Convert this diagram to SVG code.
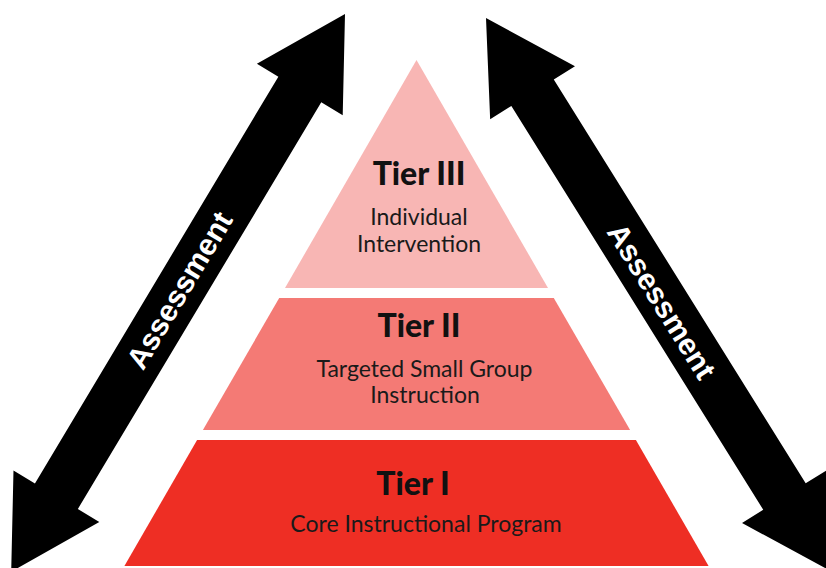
<svg xmlns="http://www.w3.org/2000/svg" width="826" height="568" viewBox="0 0 826 568">
  <style>
    .arrow { fill: #000000; }
    .atext { font-family: "Liberation Sans", Arial, sans-serif; font-weight: 700; font-size: 30px; fill: #ffffff; text-anchor: middle; }
    .head { font-family: Lato, "Liberation Sans", sans-serif; font-weight: 900; font-size: 32px; fill: #111111; text-anchor: middle; }
    .sub { font-family: Lato, "Liberation Sans", sans-serif; font-weight: 400; font-size: 23px; fill: #1a1a1a; text-anchor: middle; }
  </style>
  <rect x="0" y="0" width="826" height="568" fill="#ffffff"/>
  <g id="connectors">
    <g id="arrow-left">
      <path class="arrow" transform="translate(345,14) rotate(120.9)" d="M0,0 L88,-50 L88,-25 L562,-25 L562,-50 L650,0 L562,50 L562,25 L88,25 L88,50 Z"/>
      <text class="atext" transform="translate(179,290) rotate(-59.1)" x="0" y="0" dy="0.36em">Assessment</text>
    </g>
    <g id="arrow-right">
      <path class="arrow" transform="translate(486,18) rotate(58.05)" d="M0,0 L88,-50 L88,-25 L564,-25 L564,-50 L652,0 L564,50 L564,25 L88,25 L88,50 Z"/>
      <text class="atext" transform="translate(662,301) rotate(58.05)" x="0" y="0" dy="0.36em">Assessment</text>
    </g>
  </g>
  <g id="tier3">
    <path d="M416.5,60 L548,288 L285,288 Z" fill="#F8B6B4"/>
    <text class="head" x="419" y="185">Tier III</text>
    <text class="sub" x="419" y="225">Individual</text>
    <text class="sub" x="419" y="252">Intervention</text>
  </g>
  <g id="tier2">
    <path d="M279.2,298 L553.8,298 L630.1,430 L202.9,430 Z" fill="#F47A75"/>
    <text class="head" x="419" y="337">Tier II</text>
    <text class="sub" x="424.5" y="377">Targeted Small Group</text>
    <text class="sub" x="425" y="403">Instruction</text>
  </g>
  <g id="tier1">
    <path d="M197.1,440 L635.9,440 L708.6,566 L124.4,566 Z" fill="#EE2E24"/>
    <text class="head" x="413" y="495">Tier I</text>
    <text class="sub" x="426" y="532">Core Instructional Program</text>
  </g>
</svg>
